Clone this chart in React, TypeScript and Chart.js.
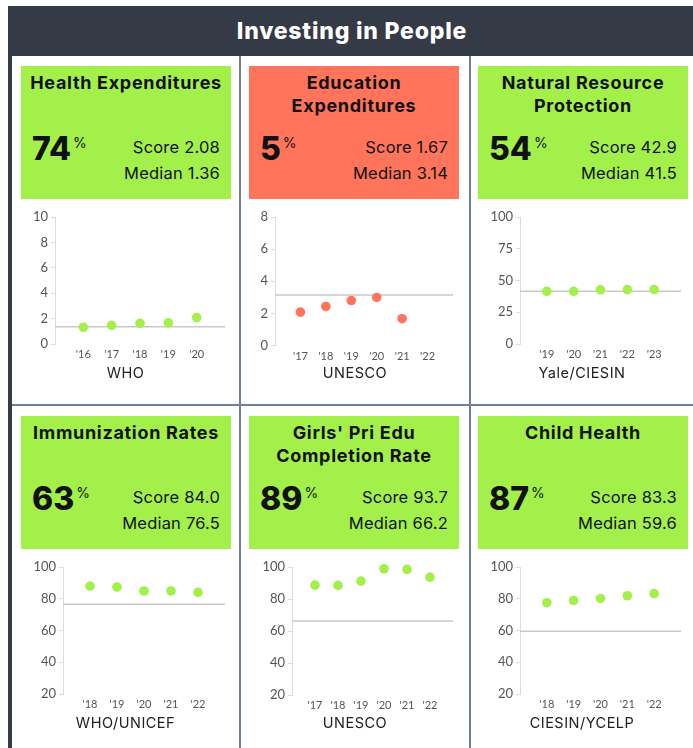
import React, { useEffect, useRef } from "react";
import { Chart, registerables } from "chart.js";
Chart.register(...registerables);

const GREEN = "#a3f04b";
const RED = "#ff745b";

// ---- Data ----
const healthYears = [2016, 2017, 2018, 2019, 2020];
const healthValues = [1.32, 1.47, 1.63, 1.66, 2.08];
const healthMedian = 1.36;
const healthTickYears = [2016, 2017, 2018, 2019, 2020];

const eduYears = [2017, 2018, 2019, 2020, 2021];
const eduValues = [2.08, 2.43, 2.8, 2.99, 1.67];
const eduMedian = 3.14;
const eduTickYears = [2017, 2018, 2019, 2020, 2021, 2022];

const natYears = [2019, 2020, 2021, 2022, 2023];
const natValues = [41.4, 41.5, 42.7, 42.8, 42.9];
const natMedian = 41.5;
const natTickYears = [2019, 2020, 2021, 2022, 2023];

const immYears = [2018, 2019, 2020, 2021, 2022];
const immValues = [88.0, 87.4, 84.9, 84.9, 84.0];
const immMedian = 76.5;
const immTickYears = [2018, 2019, 2020, 2021, 2022];

const girlsYears = [2017, 2018, 2019, 2020, 2021, 2022];
const girlsValues = [88.7, 88.5, 91.2, 98.9, 98.5, 93.7];
const girlsMedian = 66.2;
const girlsTickYears = [2017, 2018, 2019, 2020, 2021, 2022];

const childYears = [2018, 2019, 2020, 2021, 2022];
const childValues = [77.5, 78.9, 80.2, 81.9, 83.3];
const childMedian = 59.6;
const childTickYears = [2018, 2019, 2020, 2021, 2022];

const titles = [
  ["Health Expenditures"],
  ["Education", "Expenditures"],
  ["Natural Resource", "Protection"],
  ["Immunization Rates"],
  ["Girls' Pri Edu", "Completion Rate"],
  ["Child Health"],
];
const percents = ["74", "5", "54", "63", "89", "87"];
const scores = ["2.08", "1.67", "42.9", "84.0", "93.7", "83.3"];
const medians = ["1.36", "3.14", "41.5", "76.5", "66.2", "59.6"];
const sources = ["WHO", "UNESCO", "Yale/CIESIN", "WHO/UNICEF", "UNESCO", "CIESIN/YCELP"];
const colors = [GREEN, RED, GREEN, GREEN, GREEN, GREEN];

type Series = {
  years: number[]; values: number[]; median: number; tickYears: number[];
  xMin: number; xMax: number; yMin: number; yMax: number; yStep: number;
};

const series: Series[] = [
  { years: healthYears, values: healthValues, median: healthMedian, tickYears: healthTickYears, xMin: 2015, xMax: 2021, yMin: 0, yMax: 10, yStep: 2 },
  { years: eduYears, values: eduValues, median: eduMedian, tickYears: eduTickYears, xMin: 2016, xMax: 2023, yMin: 0, yMax: 8, yStep: 2 },
  { years: natYears, values: natValues, median: natMedian, tickYears: natTickYears, xMin: 2018, xMax: 2024, yMin: 0, yMax: 100, yStep: 25 },
  { years: immYears, values: immValues, median: immMedian, tickYears: immTickYears, xMin: 2017, xMax: 2023, yMin: 20, yMax: 100, yStep: 20 },
  { years: girlsYears, values: girlsValues, median: girlsMedian, tickYears: girlsTickYears, xMin: 2016, xMax: 2023, yMin: 20, yMax: 100, yStep: 20 },
  { years: childYears, values: childValues, median: childMedian, tickYears: childTickYears, xMin: 2017, xMax: 2023, yMin: 20, yMax: 100, yStep: 20 },
];

// ---- Layout ----
const panelX = [12, 241, 471];
const panelW = [227, 228, 222];
const boxX = [21, 249, 478];
const boxW = 210;
const ROW_DY = 350;
const chartGeo = [
  { yAxisW: 43, padRight: 14, bottom: 344 },
  { yAxisW: 34, padRight: 16, bottom: 345.5 },
  { yAxisW: 49, padRight: 12, bottom: 344 },
  { yAxisW: 51, padRight: 14, bottom: 694 },
  { yAxisW: 51, padRight: 16, bottom: 695 },
  { yAxisW: 49, padRight: 12, bottom: 694 },
];

const TEXT_FONT = "Inter, 'Open Sans', sans-serif";

function MiniChart({ s, color, left, top, w, h, yAxisW, padRight, padTop, xAxisH }: any) {
  const ref = useRef<HTMLCanvasElement>(null);
  useEffect(() => {
    const chart = new Chart(ref.current!, {
      type: "scatter",
      data: {
        datasets: [
          {
            type: "line",
            data: [{ x: s.xMin, y: s.median }, { x: s.xMax, y: s.median }],
            borderColor: "#c9c9c9",
            borderWidth: 1.5,
            pointRadius: 0,
            showLine: true,
            order: 2,
          } as any,
          {
            data: s.years.map((y: number, i: number) => ({ x: y, y: s.values[i] })),
            backgroundColor: color,
            borderColor: color,
            borderWidth: 0,
            pointRadius: 4.8,
            clip: false,
            order: 1,
          } as any,
        ],
      },
      options: {
        responsive: false,
        animation: false,
        layout: { padding: { top: padTop, right: padRight, left: 0, bottom: 0 } },
        plugins: { legend: { display: false }, tooltip: { enabled: false } },
        scales: {
          x: {
            type: "linear",
            min: s.xMin,
            max: s.xMax,
            grid: { display: false, drawTicks: false },
            border: { display: false },
            afterBuildTicks: (sc: any) => {
              sc.ticks = s.tickYears.map((v: number) => ({ value: v }));
            },
            afterFit: (sc: any) => {
              sc.height = xAxisH;
            },
            ticks: {
              autoSkip: false,
              maxRotation: 0,
              padding: 4,
              color: "#555",
              font: { family: "Lato", size: 11 },
              callback: (v: any) => "'" + String(v).slice(2),
            },
          },
          y: {
            min: s.yMin,
            max: s.yMax,
            afterFit: (sc: any) => {
              sc.width = yAxisW;
            },
            ticks: { stepSize: s.yStep, color: "#555", font: { family: "Lato", size: 13 }, padding: 3 },
            grid: { drawOnChartArea: false, color: "#ddd", tickLength: 4 },
            border: { color: "#ddd" },
          },
        },
      },
    });
    return () => chart.destroy();
  }, []);
  return (
    <canvas
      ref={ref}
      width={w}
      height={h}
      style={{ position: "absolute", left, top, width: w, height: h }}
    />
  );
}

function Box({ idx }: { idx: number }) {
  const col = idx % 3;
  const row = Math.floor(idx / 3);
  const top = 66 + row * ROW_DY;
  const t = titles[idx];
  return (
    <div
      style={{
        position: "absolute",
        left: boxX[col],
        top,
        width: boxW,
        height: 133,
        background: colors[idx],
        fontFamily: TEXT_FONT,
        color: "#111",
      }}
    >
      {t.map((line, i) => (
        <div
          key={i}
          style={{
            position: "absolute",
            left: 0,
            width: boxW,
            top: 5 + i * 23,
            height: 23,
            lineHeight: "23px",
            textAlign: "center",
            fontWeight: 700,
            fontSize: 18,
            letterSpacing: 0.7,
            whiteSpace: "nowrap",
          }}
        >
          {line}
        </div>
      ))}
      <div
        style={{
          position: "absolute",
          left: 11,
          top: 66,
          lineHeight: "34px",
          fontSize: 32,
          fontWeight: 800,
          whiteSpace: "nowrap",
        }}
      >
        {percents[idx]}
        <span style={{ fontSize: 14, fontWeight: 400, verticalAlign: "top", position: "relative", top: -6, marginLeft: 2 }}>%</span>
      </div>
      <div
        style={{ position: "absolute", right: 11, top: 70, lineHeight: "22px", fontSize: 16.5, fontWeight: 400, textAlign: "right", whiteSpace: "nowrap", letterSpacing: 0.2 }}
      >
        Score {scores[idx]}
      </div>
      <div
        style={{ position: "absolute", right: 11, top: 96, lineHeight: "22px", fontSize: 16.5, fontWeight: 400, textAlign: "right", whiteSpace: "nowrap", letterSpacing: 0.2 }}
      >
        Median {medians[idx]}
      </div>
    </div>
  );
}

export default function App() {
  return (
    <div style={{ position: "fixed", left: 0, top: 0, width: 693, height: 748, overflow: "hidden", background: "#fff" }}>
      {/* header */}
      <div
        style={{
          position: "absolute",
          left: 8,
          top: 6,
          width: 700,
          height: 50,
          background: "#343a46",
          color: "#fff",
          fontFamily: TEXT_FONT,
          fontWeight: 800,
          fontSize: 23,
          letterSpacing: 0.8,
          lineHeight: "51px",
          textAlign: "center",
        }}
      >
        <span style={{ position: "absolute", left: 0, width: 688, textAlign: "center" }}>Investing in People</span>
      </div>
      {/* left border */}
      <div style={{ position: "absolute", left: 8, top: 56, width: 4, height: 700, background: "#343a46" }} />
      {/* vertical dividers */}
      <div style={{ position: "absolute", left: 239, top: 56, width: 2, height: 700, background: "#707e96" }} />
      <div style={{ position: "absolute", left: 469, top: 56, width: 2, height: 700, background: "#707e96" }} />
      {/* horizontal divider */}
      <div style={{ position: "absolute", left: 12, top: 404, width: 690, height: 2, background: "#707e96" }} />

      {[0, 1, 2, 3, 4, 5].map((i) => (
        <Box key={"b" + i} idx={i} />
      ))}

      {series.map((s, i) => {
        const col = i % 3;
        const row = Math.floor(i / 3);
        const top = 205 + row * ROW_DY;
        const h = 165;
        const g = chartGeo[i];
        return (
          <MiniChart
            key={"c" + i}
            s={s}
            color={colors[i]}
            left={panelX[col]}
            top={top}
            w={panelW[col]}
            h={h}
            yAxisW={g.yAxisW}
            padRight={g.padRight}
            padTop={12}
            xAxisH={top + h - g.bottom}
          />
        );
      })}

      {sources.map((src, i) => {
        const col = i % 3;
        const row = Math.floor(i / 3);
        return (
          <div
            key={"s" + i}
            style={{
              position: "absolute",
              left: panelX[col],
              width: panelW[col],
              top: 364 + row * ROW_DY,
              lineHeight: "18px",
              textAlign: "center",
              fontFamily: TEXT_FONT,
              fontSize: 14.5,
              letterSpacing: 0.5,
              color: "#222",
            }}
          >
            {src}
          </div>
        );
      })}
    </div>
  );
}
